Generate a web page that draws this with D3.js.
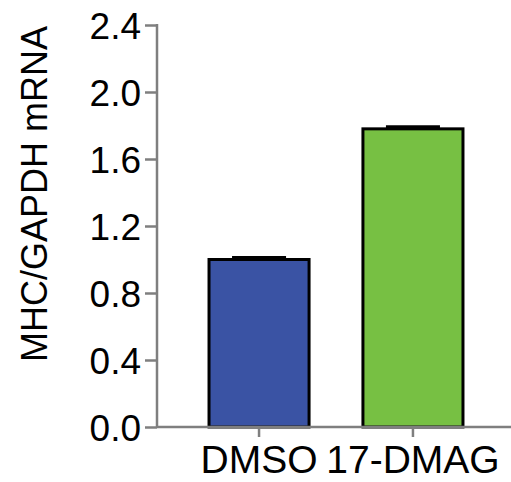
<!DOCTYPE html>
<html lang="en">
<head>
    <script src='https://d3js.org/d3.v7.min.js'></script>
    <style>
        body { margin: 0; background: #fff; }
        text { font-family: "Liberation Sans", Arial, sans-serif; fill: #000; }
    </style>
</head>
<body>
<script>
var groups = ["DMSO", "17-DMAG"];
var means = [1.0, 1.78];
var sems = [0.012, 0.012];
var colors = ["#3a53a4", "#77c043"];
var yTicks = [0.0, 0.4, 0.8, 1.2, 1.6, 2.0, 2.4];

var width = 511, height = 482;
var x0 = 157, x1 = 511, yTop = 25, yBot = 427;

var svg = d3.select("body").append("svg")
    .attr("width", width)
    .attr("height", height);

var y = d3.scaleLinear().domain([0, 2.4]).range([yBot, yTop]);
var x = d3.scaleBand().domain(groups).range([x0, 515]).paddingInner(0.35).paddingOuter(0.338);

// bars
svg.selectAll("rect.bar")
    .data(groups)
    .enter().append("rect")
    .attr("class", "bar")
    .attr("x", function(d) { return x(d); })
    .attr("width", x.bandwidth())
    .attr("y", function(d, i) { return y(means[i]); })
    .attr("height", function(d, i) { return yBot - y(means[i]); })
    .attr("fill", function(d, i) { return colors[i]; })
    .attr("stroke", "#000")
    .attr("stroke-width", 3);

// error bars (upper only)
svg.selectAll("line.err")
    .data(groups)
    .enter().append("line")
    .attr("x1", function(d) { return x(d) + x.bandwidth() * 0.23; })
    .attr("x2", function(d) { return x(d) + x.bandwidth() * 0.77; })
    .attr("y1", function(d, i) { return y(means[i] + sems[i]); })
    .attr("y2", function(d, i) { return y(means[i] + sems[i]); })
    .attr("stroke", "#000")
    .attr("stroke-width", 3);

// y axis
var yAxis = d3.axisLeft(y).tickValues(yTicks).tickFormat(d3.format(".1f")).tickSize(12).tickPadding(4);
var gy = svg.append("g").attr("transform", "translate(" + x0 + ",0)").call(yAxis);
gy.select(".domain").remove();
gy.append("line").attr("x1", 0).attr("x2", 0).attr("y1", yTop - 1).attr("y2", yBot + 1)
    .attr("stroke", "#7f7f7f").attr("stroke-width", 2.5);
gy.selectAll(".tick line").attr("stroke", "#7f7f7f").attr("stroke-width", 2.5);
gy.selectAll(".tick text").style("font-size", "37px").attr("dy", "0.36em");

// x axis
var xAxis = d3.axisBottom(x).tickSize(10).tickPadding(8);
var gx = svg.append("g").attr("transform", "translate(0," + yBot + ")").call(xAxis);
gx.select(".domain").remove();
gx.append("line").attr("x1", x0).attr("x2", x1).attr("y1", 0).attr("y2", 0)
    .attr("stroke", "#7f7f7f").attr("stroke-width", 2.5);
gx.selectAll(".tick line").attr("stroke", "#7f7f7f").attr("stroke-width", 2.5);
gx.selectAll(".tick text").style("font-size", "39px");

// y title
svg.append("text")
    .attr("transform", "translate(47,194) rotate(-90)")
    .attr("text-anchor", "middle")
    .style("font-size", "36px")
    .text("MHC/GAPDH mRNA");
</script>
</body>
</html>
